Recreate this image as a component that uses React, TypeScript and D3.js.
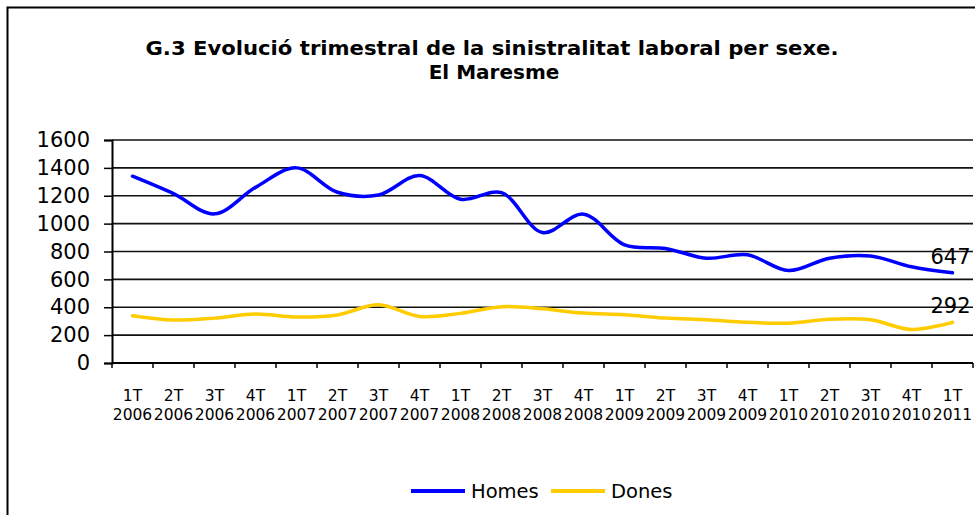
import { useEffect, useRef } from 'react';
import * as d3 from 'd3';

const quarters = ['1T', '2T', '3T', '4T', '1T', '2T', '3T', '4T', '1T', '2T', '3T', '4T', '1T', '2T', '3T', '4T', '1T', '2T', '3T', '4T', '1T'];
const years = ['2006', '2006', '2006', '2006', '2007', '2007', '2007', '2007', '2008', '2008', '2008', '2008', '2009', '2009', '2009', '2009', '2010', '2010', '2010', '2010', '2011'];
const homes = [1340, 1215, 1070, 1260, 1400, 1225, 1205, 1345, 1175, 1222, 936, 1068, 848, 822, 752, 776, 663, 752, 768, 690, 647];
const dones = [339, 308, 322, 352, 330, 345, 418, 334, 356, 404, 389, 358, 346, 322, 310, 292, 286, 314, 310, 240, 292];
const yTicks = [0, 200, 400, 600, 800, 1000, 1200, 1400, 1600];

const WIDTH = 975;
const HEIGHT = 515;

const App = () => {
	const ref = useRef<SVGSVGElement>(null);

	useEffect(() => {
		if (!ref.current) return;
		const svg = d3.select(ref.current);
		svg.selectAll('*').remove();

		const font = 'DejaVu Sans, Verdana, sans-serif';
		const left = 112;
		const right = 973;
		const top = 140;
		const bottom = 363;

		const idx = quarters.map((_, i) => i);
		const x = d3.scaleBand<number>().domain(idx).range([left, right]).padding(0);
		const y = d3.scaleLinear().domain([0, 1600]).range([bottom, top]);
		const cx = (i: number) => (x(i) ?? 0) + x.bandwidth() / 2;

		// frame
		svg.append('path')
			.attr('d', `M7.5,${HEIGHT} V7.5 H${WIDTH}`)
			.attr('fill', 'none')
			.attr('stroke', '#000')
			.attr('stroke-width', 2);

		// title
		const title = svg.append('text')
			.attr('text-anchor', 'middle')
			.style('font-family', font)
			.style('font-weight', 'bold')
			.style('font-size', '20px')
			.attr('fill', '#000');
		title.append('tspan').attr('x', 492).attr('y', 55)
			.attr('textLength', 693)
			.attr('lengthAdjust', 'spacingAndGlyphs')
			.text('G.3 Evolució trimestral de la sinistralitat laboral per sexe.');
		title.append('tspan').attr('x', 494).attr('y', 79).text('El Maresme');

		// gridlines
		svg.append('g')
			.selectAll('line')
			.data(yTicks.filter(d => d > 0))
			.join('line')
			.attr('x1', left)
			.attr('x2', right)
			.attr('y1', d => y(d))
			.attr('y2', d => y(d))
			.attr('stroke', '#111')
			.attr('stroke-width', 1.6);

		// y axis
		const yAxis = svg.append('g')
			.attr('transform', `translate(${left},0)`)
			.call(d3.axisLeft(y).tickValues(yTicks).tickFormat(d3.format('d')).tickSize(8).tickPadding(14));
		yAxis.select('.domain').attr('stroke', '#000').attr('stroke-width', 2);
		yAxis.selectAll('.tick line').attr('stroke', '#000').attr('stroke-width', 1.5);
		yAxis.selectAll('.tick text')
			.style('font-family', font)
			.style('font-size', '21px')
			.attr('fill', '#000');

		// x axis
		svg.append('line')
			.attr('x1', left)
			.attr('x2', right)
			.attr('y1', bottom)
			.attr('y2', bottom)
			.attr('stroke', '#000')
			.attr('stroke-width', 2);
		svg.append('g')
			.selectAll('line')
			.data(d3.range(quarters.length + 1))
			.join('line')
			.attr('x1', d => left + d * x.bandwidth())
			.attr('x2', d => left + d * x.bandwidth())
			.attr('y1', bottom)
			.attr('y2', bottom + 5)
			.attr('stroke', '#000')
			.attr('stroke-width', 1.5);

		const xl = svg.append('g')
			.style('font-family', font)
			.style('font-size', '15.5px')
			.attr('fill', '#000')
			.attr('text-anchor', 'middle');
		xl.selectAll('text.q')
			.data(idx)
			.join('text')
			.attr('class', 'q')
			.attr('x', d => cx(d))
			.attr('y', 401)
			.text(d => quarters[d]);
		xl.selectAll('text.yr')
			.data(idx)
			.join('text')
			.attr('class', 'yr')
			.attr('x', d => cx(d))
			.attr('y', 420)
			.text(d => years[d]);

		// lines
		const line = d3.line<number>()
			.x((_, i) => cx(i))
			.y(d => y(d))
			.curve(d3.curveCatmullRom.alpha(0.5));

		const series = [
			{ name: 'Homes', values: homes, color: '#0000ff' },
			{ name: 'Dones', values: dones, color: '#ffcc00' },
		];

		series.forEach(s => {
			svg.append('path')
				.attr('d', line(s.values))
				.attr('fill', 'none')
				.attr('stroke', s.color)
				.attr('stroke-width', 3.5)
				.attr('stroke-linecap', 'round');

			const last = s.values.length - 1;
			svg.append('text')
				.attr('x', cx(last) - 2)
				.attr('y', y(s.values[last]) - 9)
				.attr('text-anchor', 'middle')
				.style('font-family', font)
				.style('font-size', '21px')
				.attr('fill', '#000')
				.text(s.values[last]);
		});

		// legend
		const legendX = [411, 551];
		series.forEach((s, i) => {
			const g = svg.append('g').attr('transform', `translate(${legendX[i]},491)`);
			g.append('line')
				.attr('x1', 0)
				.attr('x2', 54)
				.attr('stroke', s.color)
				.attr('stroke-width', 4);
			g.append('text')
				.attr('x', 60)
				.attr('y', 7)
				.style('font-family', font)
				.style('font-size', '19.5px')
				.attr('fill', '#000')
				.text(s.name);
		});
	}, []);

	return (
		<svg
			ref={ref}
			width={WIDTH}
			height={HEIGHT}
			style={{ position: 'absolute', left: 0, top: 0, background: '#fff' }}
		></svg>
	);
};

export default App;
